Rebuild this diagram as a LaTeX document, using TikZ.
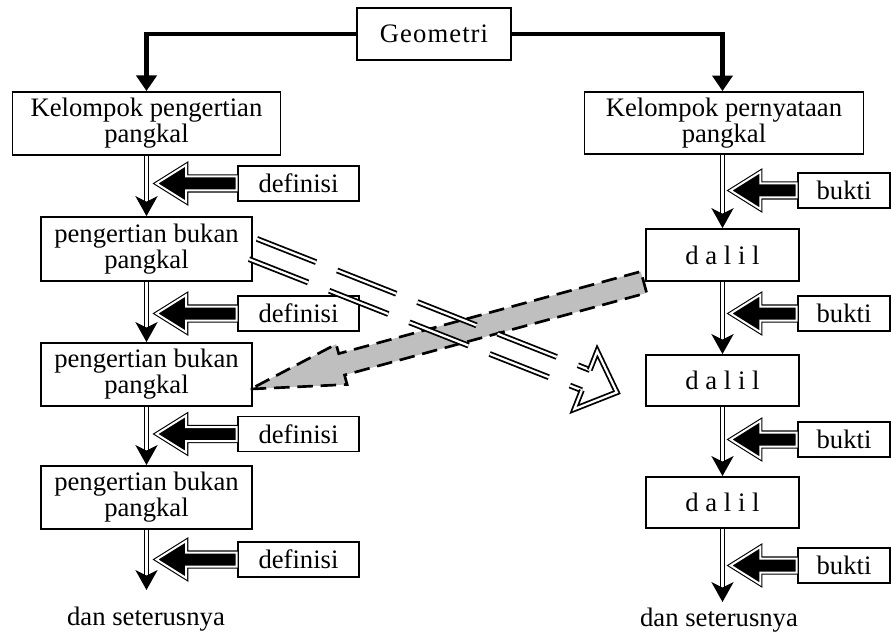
\documentclass[tikz,border=0pt]{standalone}
\usepackage{fontspec}
\setmainfont{Liberation Serif}
\usetikzlibrary{arrows.meta,shapes.arrows}

\tikzset{
  box/.style={draw,line width=0.8pt,inner sep=0pt,align=center},
  dbl/.style={double,double distance=1.2pt,line width=0.7pt,-{Stealth[length=9pt,width=10pt,inset=2.5pt]}},
  blk/.style={line width=2.2pt,-{Triangle[length=7pt,width=9pt]}},
  pusharr/.style={single arrow,shape border rotate=180,draw,double,double distance=0.9pt,line width=0.5pt,
    fill=black,inner sep=2.9pt,single arrow head extend=5.2pt,single arrow tip angle=64,minimum width=0pt,anchor=tail},
  hollowarr/.style={double,double distance=1pt,line width=0.8pt},
  greyarr/.style={single arrow,draw,fill=gray!50,line width=1.2pt,dash pattern=on 7pt off 3.5pt,
    inner sep=4.4pt,single arrow head extend=4.4pt,single arrow tip angle=25,minimum width=0pt,anchor=tail},
}

\begin{document}
\begin{tikzpicture}[x=0.45pt,y=-0.45pt,font=\fontsize{12}{11.7}\selectfont]
\useasboundingbox (0,0) rectangle (891,635);

\node[box,minimum width=69.3pt,minimum height=23.4pt,font=\fontsize{12}{11.7}\selectfont\addfontfeature{LetterSpace=4}] (geo) at (434,34) {Geometri};
\node[box,minimum width=120.6pt,minimum height=28.4pt] (kp) at (146.5,123.5) {Kelompok pengertian\\pangkal};
\node[box,minimum width=125.5pt,minimum height=27.9pt] (kn) at (724,123) {Kelompok pernyataan\\pangkal};

\node[box,minimum width=95pt,minimum height=28.8pt] (pb1) at (146.5,249) {pengertian bukan\\pangkal};
\node[box,minimum width=95pt,minimum height=28.4pt] (pb2) at (146.5,374.5) {pengertian bukan\\pangkal};
\node[box,minimum width=95pt,minimum height=28.4pt] (pb3) at (146.5,497.5) {pengertian bukan\\pangkal};
\node (danl) at (146,619) {dan seterusnya};
\coordinate (endl) at (146.5,590);

\node[box,minimum width=68.9pt,minimum height=23.4pt] (dl1) at (722.5,255) {d a l i l};
\node[box,minimum width=68.9pt,minimum height=23pt] (dl2) at (722.5,380.5) {d a l i l};
\node[box,minimum width=68.9pt,minimum height=23pt] (dl3) at (722.5,502.5) {d a l i l};
\node (danr) at (719,620) {dan seterusnya};
\coordinate (endr) at (722.5,602);

\foreach \n/\y in {1/183.5,2/313.5,3/434,4/559.5}{
  \node[box,minimum width=54.5pt,minimum height=15.75pt] (df\n) at (298.5,\y) {definisi};
  \node[pusharr,minimum height=36pt] (pa\n) at (df\n.west) {};
}
\foreach \n/\y in {1/190.5,2/313.5,3/439.5,4/565.5}{
  \node[box,minimum width=41.4pt,minimum height=15.75pt] (bk\n) at (844,\y) {bukti};
  \node[pusharr,minimum height=29.7pt] (ba\n) at (bk\n.west) {};
}

\draw[blk] (geo.west) -| (kp.north);
\draw[blk] (geo.east) -| (dl1.north |- kn.north);

\draw[dbl] (kp.south) -- (pb1.north);
\draw[dbl] (pb1.south) -- (pb2.north);
\draw[dbl] (pb2.south) -- (pb3.north);
\draw[dbl] (pb3.south) -- (endl);
\draw[dbl] (dl1.north |- kn.south) -- (dl1.north);
\draw[dbl] (dl1.south) -- (dl2.north);
\draw[dbl] (dl2.south) -- (dl3.north);
\draw[dbl] (dl3.south) -- (endr);

\node[greyarr,rotate=195.2,minimum height=183.3pt] (ga) at (dl1.south west) {};
\begin{scope}[shift={(pb1.east)},rotate=-21.5]
\coordinate (hatip) at (176pt,0pt);
\draw[hollowarr,dash pattern=on 28.6pt off 10.2pt] (0pt,4.9pt) -- (161pt,4.9pt);
\draw[hollowarr,dash pattern=on 28.6pt off 10.2pt] (0pt,-4.9pt) -- (161pt,-4.9pt);
\draw[hollowarr] (161pt,4.9pt) -- (161pt,14pt) -- (hatip) -- (161pt,-14pt) -- (161pt,-4.9pt);
\end{scope}
\end{tikzpicture}
\end{document}
